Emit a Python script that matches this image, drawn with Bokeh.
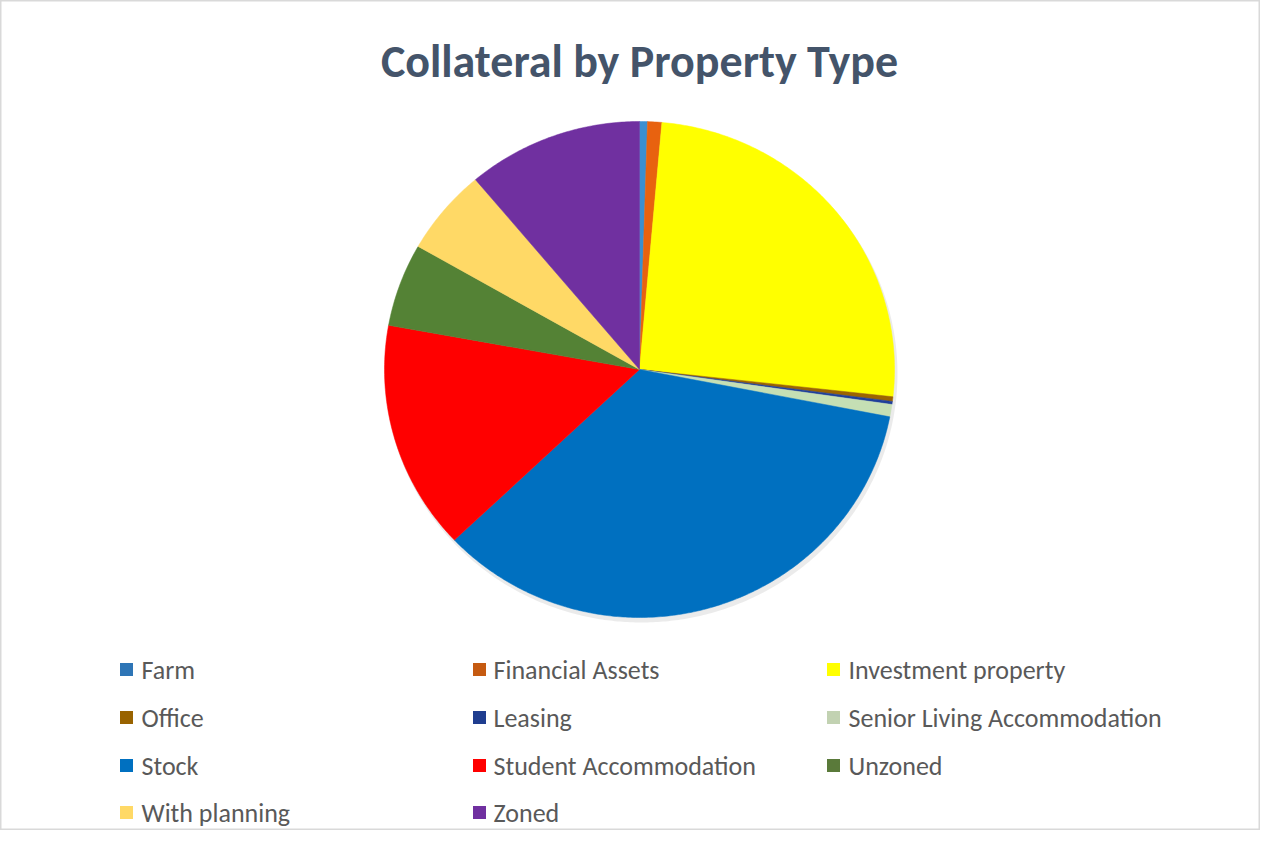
import math
from bokeh.plotting import figure
from bokeh.models import Range1d, ColumnDataSource
from bokeh.core.properties import value
from bokeh.embed import file_html
from bokeh.resources import INLINE

categories = ["Farm", "Financial Assets", "Investment property", "Office", "Leasing",
              "Senior Living Accommodation", "Stock", "Student Accommodation",
              "Unzoned", "With planning", "Zoned"]
shares = [0.5, 0.9, 25.3, 0.3, 0.2, 0.8, 34.8, 14.9, 5.4, 5.6, 11.1]
colors = ["#3a8fd0", "#e8620f", "#ffff00", "#9c6500", "#1f3f9a", "#c5dfb4",
          "#0070c0", "#ff0000", "#548235", "#ffd966", "#7030a0"]
legend_swatch = ["#2e75b6", "#c55a11", "#ffff00", "#996300", "#1f3d8f", "#c2d2b2",
                 "#0070c0", "#ff0000", "#5a7a3a", "#ffd966", "#7030a0"]
title_text = "Collateral by Property Type"

W, H = 1260, 830
p = figure(width=W, height=H, output_backend="svg", toolbar_location=None,
           x_range=Range1d(0, W), y_range=Range1d(0, H), min_border=0)
p.axis.visible = False
p.grid.visible = False
p.outline_line_color = "#d9d9d9"
p.outline_line_width = 2
p.background_fill_color = "white"
p.border_fill_color = "white"

# pie (slightly elliptical, as in the reference)
cx, cy, rx, ry = 639, H - 369, 255, 248


def arc_patch(t0, t1, ox=0.0, oy=0.0, grow=0.0):
    n = max(2, int(abs(t1 - t0) / 0.01) + 2)
    xs, ys = [cx + ox], [cy + oy]
    for k in range(n):
        t = t0 + (t1 - t0) * k / (n - 1)
        xs.append(cx + ox + (rx + grow) * math.sin(t))
        ys.append(cy + oy + (ry + grow) * math.cos(t))
    return xs, ys


total = sum(shares)
pxs, pys = [], []
cum = 0.0
for s in shares:
    t0 = 2 * math.pi * cum / total
    cum += s
    t1 = 2 * math.pi * cum / total
    xs, ys = arc_patch(t0, t1)
    pxs.append(xs)
    pys.append(ys)

# soft shadow
sx, sy = arc_patch(0, 2 * math.pi, ox=2, oy=-4, grow=1)
p.patch(x=sx, y=sy, fill_color="#000000", fill_alpha=0.08, line_color=None)
src = ColumnDataSource(dict(xs=pxs, ys=pys, color=colors, name=categories))
p.patches(xs="xs", ys="ys", fill_color="color", line_color="color", line_width=0.5,
          source=src)

# title
p.text(x=[639], y=[H - 60], text=[title_text], text_align="center", text_baseline="middle",
       text_font=value("Carlito"), text_font_size="46px", text_font_style="bold",
       text_color="#44546a")

# legend (3 columns, row-major)
swatch_x = [126, 479, 833]
text_x = [141, 493, 848]
row_y = [669, 717, 765, 812]
lx, ly, tx, sc = [], [], [], []
for i, c in enumerate(categories):
    col = i % 3
    row = i // 3
    lx.append(swatch_x[col])
    ly.append(H - row_y[row])
    tx.append(text_x[col])
    sc.append(legend_swatch[i])
p.rect(x=lx, y=ly, width=13, height=13, fill_color=sc, line_color=None)
p.text(x=tx, y=ly, text=categories, text_baseline="middle", text_align="left",
       text_font=value("Carlito"), text_font_size="26px", text_color="#595959")

open("out.html", "w").write(file_html(p, INLINE))
